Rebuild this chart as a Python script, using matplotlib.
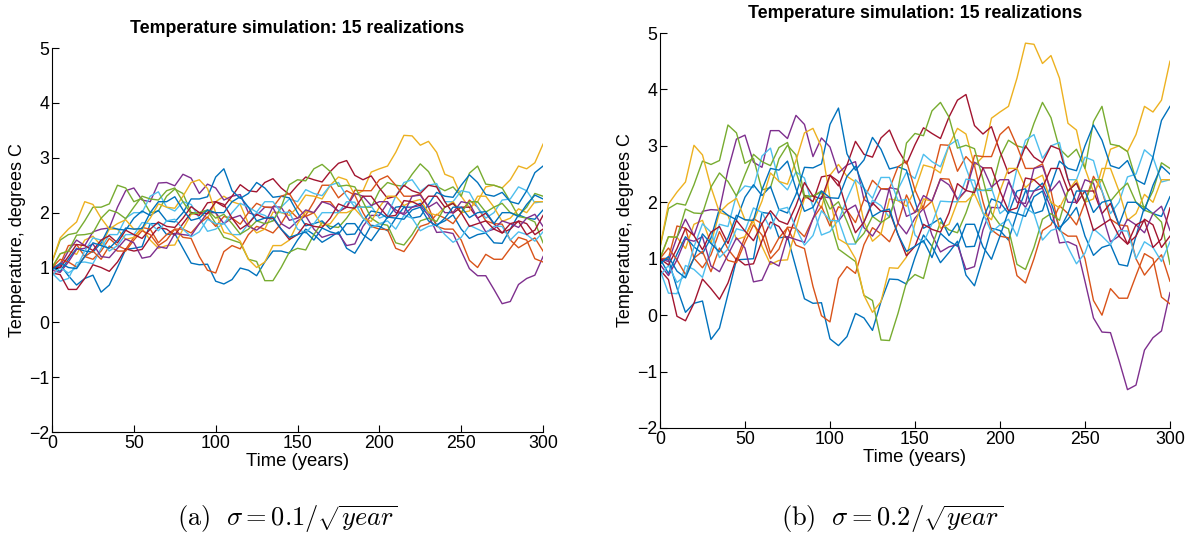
import numpy as np
import matplotlib
matplotlib.use("Agg")
import matplotlib.pyplot as plt

plt.rcParams['font.family'] = ['Liberation Sans', 'DejaVu Sans']
plt.rcParams['mathtext.fontset'] = 'cm'

# time grid (years), every 5 years
years = list(range(0, 305, 5))

# panel (a): sigma = 0.1/sqrt(year), 15 realizations
a_s1 = [1.0, 1.05, 0.85, 0.68, 0.8, 0.86, 0.55, 0.68, 1.0, 1.33, 1.35, 1.38, 1.8, 1.8, 1.6, 1.62, 1.35, 1.08, 1.05, 1.06,
        0.75, 0.70, 0.78, 0.99, 0.95, 0.85, 1.1, 1.3, 1.3, 1.26, 1.5, 1.7, 1.6, 1.46, 1.55, 1.65, 1.35, 1.26, 1.5, 1.77,
        1.75, 1.67, 1.9, 2.1, 2.1, 2.17, 2.0, 1.78, 1.85, 1.96, 1.7, 1.53, 1.6, 1.63, 1.45, 1.44, 1.7, 1.96, 1.9, 1.88, 2.05]
a_s2 = [1.0, 1.06, 1.4, 1.42, 1.2, 1.15, 1.3, 1.53, 1.4, 1.33, 1.55, 1.73, 1.7, 1.45, 1.6, 1.7, 1.55, 1.53, 1.2, 0.95,
        0.9, 1.29, 1.4, 1.34, 1.6, 1.75, 1.7, 1.63, 1.8, 2.05, 1.9, 1.95, 2.2, 2.5, 2.5, 2.27, 2.4, 2.32, 2.0, 1.75,
        1.7, 1.69, 1.35, 1.29, 1.5, 1.75, 1.8, 1.97, 1.9, 1.8, 2.0, 2.23, 2.1, 1.85, 1.8, 1.79, 1.5, 1.36, 1.45, 1.54, 1.3]
a_s3 = [1.0, 1.25, 1.3, 1.24, 1.5, 1.57, 1.4, 1.7, 1.7, 1.51, 1.55, 1.71, 1.5, 1.35, 1.4, 1.41, 1.7, 1.97, 2.0, 1.9,
        2.2, 2.3, 2.2, 2.15, 1.8, 1.63, 1.7, 2.01, 2.0, 1.95, 2.1, 2.32, 2.3, 2.25, 2.5, 2.65, 2.6, 2.32, 2.4, 2.74,
        2.8, 2.85, 3.1, 3.41, 3.4, 3.23, 3.3, 3.1, 2.7, 2.64, 2.3, 2.09, 2.2, 2.47, 2.5, 2.45, 2.6, 2.85, 2.8, 2.91, 3.25]
a_s4 = [1.0, 1.03, 1.3, 1.5, 1.4, 1.65, 1.7, 1.72, 2.1, 2.4, 2.45, 2.23, 2.2, 2.54, 2.55, 2.49, 2.7, 2.63, 2.35, 2.52,
        2.45, 2.23, 2.3, 2.33, 2.0, 1.95, 2.1, 2.09, 1.8, 1.71, 1.85, 1.94, 1.7, 1.55, 1.6, 1.62, 1.4, 1.43, 1.75, 1.95,
        1.95, 2.18, 2.05, 1.96, 2.1, 2.13, 1.95, 1.64, 1.65, 1.62, 1.3, 0.98, 0.85, 0.85, 0.6, 0.34, 0.38, 0.69, 0.8, 0.86, 1.2]
a_s5 = [1.1, 1.5, 1.6, 1.63, 1.85, 2.1, 2.1, 2.16, 2.5, 2.45, 2.2, 2.26, 2.0, 2.03, 2.3, 2.43, 2.35, 2.0, 2.0, 2.04,
        1.8, 1.55, 1.5, 1.45, 1.15, 1.11, 0.76, 0.76, 1.0, 1.28, 1.35, 1.32, 1.6, 1.82, 1.75, 1.73, 1.9, 2.12, 2.1, 2.1,
        2.4, 2.55, 2.5, 2.48, 2.7, 2.89, 2.75, 2.48, 2.4, 2.47, 2.3, 2.72, 2.85, 2.52, 2.5, 2.45, 2.2, 1.93, 1.9, 1.83, 1.45]
a_s6 = [0.9, 0.75, 0.8, 1.09, 1.1, 1.07, 1.35, 1.6, 1.6, 1.9, 2.0, 2.0, 2.3, 2.38, 2.1, 2.03, 2.2, 2.15, 1.9, 1.66,
        1.7, 1.81, 1.6, 1.6, 1.8, 2.0, 1.95, 1.85, 2.1, 2.25, 2.2, 2.42, 2.35, 2.31, 2.5, 2.55, 2.3, 2.1, 2.1, 2.12,
        1.9, 1.96, 2.3, 2.55, 2.6, 2.39, 2.5, 2.53, 2.2, 2.2, 2.4, 2.37, 2.1, 1.9, 2.0, 2.23, 2.25, 2.47, 2.4, 2.18, 2.2]
a_s7 = [0.9, 0.87, 0.6, 0.6, 0.8, 1.05, 1.0, 0.93, 1.1, 1.34, 1.3, 1.33, 1.55, 1.73, 1.7, 1.59, 1.8, 2.0, 1.95, 2.18,
        2.2, 2.11, 2.3, 2.51, 2.4, 2.38, 2.55, 2.62, 2.45, 2.33, 2.5, 2.65, 2.6, 2.56, 2.75, 2.9, 2.95, 2.68, 2.6, 2.67,
        2.45, 2.26, 2.3, 2.5, 2.4, 2.35, 2.5, 2.47, 2.2, 1.99, 2.1, 2.1, 1.9, 1.99, 1.8, 1.63, 1.7, 1.85, 1.8, 1.6, 1.7]
a_s8 = [1.0, 0.93, 1.15, 1.35, 1.3, 1.28, 1.45, 1.74, 1.7, 1.68, 1.9, 2.03, 1.95, 2.04, 1.85, 1.83, 2.0, 2.25, 2.25, 2.29,
        2.65, 2.8, 2.4, 2.26, 2.35, 2.55, 2.45, 2.28, 2.3, 2.27, 2.0, 1.76, 1.8, 1.85, 1.7, 1.81, 1.6, 1.61, 1.85, 2.03,
        2.0, 1.9, 2.1, 2.12, 1.9, 1.93, 2.15, 2.37, 2.3, 2.28, 2.5, 2.69, 2.55, 2.33, 2.3, 2.37, 2.2, 2.16, 2.4, 2.73, 2.85]
a_s9 = [1.0, 1.15, 1.1, 1.01, 1.2, 1.3, 1.15, 1.39, 1.3, 1.3, 1.5, 1.67, 1.6, 1.4, 1.5, 1.7, 1.7, 1.63, 1.8, 1.92,
        1.75, 1.93, 1.9, 1.79, 2.0, 2.17, 2.1, 2.1, 2.3, 2.35, 2.1, 1.93, 2.0, 2.2, 2.2, 2.01, 2.1, 2.41, 2.4, 2.4,
        2.6, 2.67, 2.5, 2.3, 2.3, 2.34, 2.1, 1.75, 1.7, 1.7, 1.5, 1.13, 1.0, 1.24, 1.15, 1.15, 1.35, 1.55, 1.5, 1.16, 1.1]
a_s10 = [1.1, 1.54, 1.7, 1.83, 2.2, 2.15, 1.9, 1.7, 1.8, 1.87, 1.7, 1.7, 1.9, 2.16, 2.1, 2.08, 2.3, 2.55, 2.6, 2.44,
         2.0, 1.64, 1.6, 1.48, 1.15, 1.0, 1.1, 1.4, 1.4, 1.5, 1.8, 2.02, 2.0, 1.76, 1.8, 2.0, 2.0, 2.07, 1.9, 1.84,
         2.1, 2.3, 2.3, 2.13, 2.2, 2.24, 2.0, 1.95, 2.1, 2.2, 2.0, 2.03, 2.3, 2.3, 2.1, 1.84, 1.9, 2.07, 2.0, 2.2, 2.2]
a_s11 = [0.95, 0.91, 1.1, 1.33, 1.35, 1.43, 1.2, 1.18, 1.35, 1.52, 1.45, 1.17, 1.2, 1.38, 1.35, 1.62, 1.6, 1.58, 1.8, 2.0,
         2.0, 1.8, 1.9, 1.95, 1.75, 1.68, 1.8, 2.11, 2.1, 1.86, 1.9, 2.05, 2.0, 2.2, 2.15, 2.03, 2.1, 2.35, 2.3, 2.13,
         2.2, 2.2, 2.0, 1.99, 2.3, 2.32, 2.1, 2.19, 2.0, 2.0, 2.2, 2.17, 1.9, 1.65, 1.7, 1.85, 1.8, 1.73, 1.9, 1.97, 1.75]
a_s12 = [1.0, 1.25, 1.3, 1.59, 1.6, 1.63, 1.9, 2.05, 2.0, 1.89, 2.1, 2.3, 2.25, 2.23, 2.4, 2.45, 2.2, 1.98, 2.0, 2.05,
         1.9, 1.97, 1.8, 1.61, 1.7, 1.85, 1.8, 1.85, 2.1, 2.51, 2.6, 2.58, 2.8, 2.88, 2.75, 2.48, 2.5, 2.47, 2.2, 1.9,
         1.8, 1.77, 1.45, 1.41, 1.6, 1.85, 1.9, 1.84, 2.1, 2.17, 2.0, 2.2, 2.2, 2.01, 2.1, 2.17, 2.0, 1.95, 2.1, 2.35, 2.3]
a_s13 = [0.85, 1.0, 0.9, 1.0, 1.3, 1.54, 1.5, 1.3, 1.4, 1.6, 1.6, 1.82, 1.8, 1.67, 1.85, 1.88, 1.7, 1.56, 1.65, 1.88,
         1.8, 1.8, 2.0, 2.17, 2.1, 2.01, 2.2, 2.2, 2.0, 2.01, 1.7, 1.63, 1.8, 2.0, 2.0, 2.0, 2.2, 2.19, 1.9, 1.73,
         1.8, 1.85, 1.7, 1.95, 1.9, 1.67, 1.75, 1.78, 1.6, 1.46, 1.55, 1.77, 1.7, 1.63, 1.75, 1.75, 1.5, 1.65, 1.6, 1.48, 1.65]
a_s14 = [1.0, 1.0, 1.2, 1.42, 1.4, 1.31, 1.5, 1.58, 1.45, 1.68, 1.6, 1.53, 1.7, 1.83, 1.75, 1.73, 1.9, 2.11, 2.0, 1.98,
         2.2, 2.15, 1.9, 1.7, 1.8, 1.97, 1.9, 1.9, 1.7, 1.51, 1.6, 1.8, 1.75, 1.73, 1.9, 2.16, 2.1, 2.08, 2.3, 2.3,
         2.1, 1.93, 1.95, 2.22, 2.2, 2.13, 2.3, 2.3, 2.1, 2.17, 2.0, 1.75, 1.8, 1.85, 1.7, 1.63, 1.8, 1.84, 1.6, 1.68, 1.95]
a_s15 = [0.95, 1.08, 1.0, 0.98, 1.2, 1.45, 1.4, 1.35, 1.5, 1.72, 1.7, 1.71, 2.0, 2.2, 2.2, 2.29, 2.05, 1.86, 1.9, 2.05,
         2.0, 2.0, 2.2, 2.29, 2.1, 1.85, 1.9, 1.92, 1.7, 1.55, 1.6, 1.65, 1.5, 1.72, 1.65, 1.61, 1.8, 1.8, 1.6, 1.49,
         1.7, 1.92, 1.9, 1.88, 2.05, 2.1, 1.85, 1.76, 1.9, 2.1, 2.1, 1.91, 2.0, 2.02, 1.8, 2.0, 2.0, 1.93, 2.15, 2.32, 2.25]

# panel (b): sigma = 0.2/sqrt(year), 15 realizations
b_s1 = [1.0, 0.98, 0.48, 0.05, 0.21, 0.25, -0.43, -0.23, 0.37, 0.98, 0.99, 1.0, 1.82, 1.8, 1.37, 1.39, 0.84, 0.29, 0.21, 0.22,
        -0.42, -0.54, -0.38, 0.03, -0.05, -0.27, 0.24, 0.64, 0.63, 0.55, 1.02, 1.42, 1.22, 0.93, 1.11, 1.31, 0.71, 0.52, 1.01, 1.54,
        1.5, 1.33, 1.8, 2.2, 2.2, 2.34, 2.0, 1.55, 1.7, 1.91, 1.4, 1.06, 1.2, 1.25, 0.9, 0.87, 1.4, 1.92, 1.8, 1.75, 2.1]
b_s2 = [1.0, 1.01, 1.58, 1.54, 1.01, 0.84, 1.07, 1.48, 1.17, 0.98, 1.39, 1.71, 1.62, 1.1, 1.37, 1.55, 1.24, 1.18, 0.51, -0.01,
        -0.12, 0.65, 0.86, 0.74, 1.25, 1.55, 1.44, 1.3, 1.63, 2.13, 1.82, 1.92, 2.42, 3.02, 3.01, 2.55, 2.81, 2.65, 2.01, 1.51,
        1.4, 1.37, 0.7, 0.57, 1.0, 1.5, 1.6, 1.94, 1.8, 1.6, 2.0, 2.46, 2.2, 1.7, 1.6, 1.58, 1.0, 0.71, 0.9, 1.07, 0.6]
b_s3 = [1.0, 1.39, 1.38, 1.18, 1.61, 1.68, 1.27, 1.82, 1.77, 1.34, 1.39, 1.67, 1.22, 0.9, 0.97, 0.98, 1.54, 2.07, 2.11, 1.9,
        2.48, 2.67, 2.46, 2.36, 1.65, 1.31, 1.44, 2.06, 2.03, 1.93, 2.22, 2.66, 2.62, 2.52, 3.01, 3.31, 3.21, 2.65, 2.81, 3.49,
        3.6, 3.7, 4.2, 4.82, 4.8, 4.46, 4.6, 4.2, 3.4, 3.28, 2.6, 2.18, 2.4, 2.94, 3.0, 2.9, 3.2, 3.7, 3.6, 3.81, 4.5]
b_s4 = [1.0, 0.95, 1.38, 1.7, 1.41, 1.84, 1.87, 1.86, 2.57, 3.12, 3.19, 2.71, 2.62, 3.27, 3.27, 3.13, 3.54, 3.38, 2.81, 3.14,
        2.98, 2.52, 2.66, 2.72, 2.05, 1.95, 2.24, 2.22, 1.63, 1.44, 1.72, 1.89, 1.42, 1.12, 1.21, 1.25, 0.81, 0.86, 1.51, 1.91,
        1.9, 2.36, 2.1, 1.91, 2.2, 2.25, 1.9, 1.28, 1.3, 1.23, 0.6, -0.05, -0.3, -0.31, -0.8, -1.32, -1.24, -0.62, -0.4, -0.28, 0.4]
b_s5 = [1.2, 1.89, 1.98, 1.95, 2.31, 2.73, 2.67, 2.74, 3.37, 3.23, 2.69, 2.78, 2.22, 2.26, 2.77, 3.01, 2.84, 2.12, 2.11, 2.18,
        1.68, 1.17, 1.06, 0.95, 0.35, 0.26, -0.44, -0.45, 0.03, 0.58, 0.72, 0.65, 1.22, 1.65, 1.51, 1.46, 1.81, 2.25, 2.21, 2.21,
        2.8, 3.1, 3.0, 2.96, 3.4, 3.77, 3.5, 2.95, 2.8, 2.94, 2.6, 3.43, 3.7, 3.03, 3.0, 2.9, 2.4, 1.86, 1.8, 1.65, 0.9]
b_s6 = [0.8, 0.39, 0.38, 0.88, 0.81, 0.67, 1.17, 1.61, 1.57, 2.13, 2.29, 2.26, 2.82, 2.96, 2.37, 2.22, 2.54, 2.43, 1.91, 1.42,
        1.48, 1.69, 1.26, 1.26, 1.65, 2.04, 1.94, 1.73, 2.23, 2.53, 2.42, 2.85, 2.72, 2.63, 3.01, 3.11, 2.61, 2.21, 2.21, 2.25,
        1.8, 1.92, 2.6, 3.1, 3.2, 2.78, 3.0, 3.06, 2.4, 2.4, 2.8, 2.74, 2.2, 1.8, 2.0, 2.45, 2.5, 2.93, 2.8, 2.36, 2.4]
b_s7 = [0.8, 0.63, -0.02, -0.1, 0.21, 0.64, 0.47, 0.28, 0.57, 1.01, 0.89, 0.91, 1.32, 1.65, 1.57, 1.34, 1.74, 2.12, 2.01, 2.45,
        2.48, 2.29, 2.66, 3.08, 2.85, 2.8, 3.14, 3.28, 2.93, 2.68, 3.02, 3.32, 3.22, 3.13, 3.51, 3.81, 3.91, 3.36, 3.21, 3.34,
        2.9, 2.51, 2.6, 3.0, 2.8, 2.7, 3.0, 2.94, 2.4, 1.98, 2.2, 2.2, 1.8, 1.98, 1.6, 1.26, 1.4, 1.7, 1.6, 1.2, 1.4]
b_s8 = [1.0, 0.74, 1.08, 1.39, 1.21, 1.09, 1.37, 1.89, 1.77, 1.69, 2.09, 2.31, 2.12, 2.28, 1.87, 1.81, 2.14, 2.62, 2.61, 2.68,
        3.38, 3.67, 2.86, 2.57, 2.75, 3.15, 2.94, 2.59, 2.63, 2.57, 2.02, 1.54, 1.62, 1.72, 1.41, 1.63, 1.21, 1.22, 1.71, 2.06,
        2.0, 1.8, 2.2, 2.24, 1.8, 1.85, 2.3, 2.73, 2.6, 2.56, 3.0, 3.37, 3.1, 2.65, 2.6, 2.74, 2.4, 2.32, 2.8, 3.45, 3.7]
b_s9 = [1.0, 1.19, 0.98, 0.72, 1.01, 1.13, 0.77, 1.19, 0.97, 0.93, 1.29, 1.6, 1.42, 1.0, 1.17, 1.56, 1.54, 1.39, 1.71, 1.93,
        1.58, 1.92, 1.86, 1.64, 2.05, 2.39, 2.24, 2.24, 2.63, 2.73, 2.22, 1.88, 2.02, 2.42, 2.41, 2.03, 2.21, 2.83, 2.81, 2.81,
        3.2, 3.34, 3.0, 2.6, 2.6, 2.68, 2.2, 1.5, 1.4, 1.4, 1.0, 0.26, 0.0, 0.47, 0.3, 0.3, 0.7, 1.09, 1.0, 0.32, 0.2]
b_s10 = [1.2, 1.97, 2.18, 2.36, 3.01, 2.84, 2.27, 1.82, 1.97, 2.07, 1.69, 1.66, 2.02, 2.52, 2.37, 2.32, 2.74, 3.23, 3.31, 2.98,
         2.08, 1.35, 1.26, 1.0, 0.35, 0.05, 0.24, 0.84, 0.83, 1.03, 1.62, 2.06, 2.02, 1.54, 1.61, 2.01, 2.01, 2.15, 1.81, 1.69,
         2.2, 2.6, 2.6, 2.26, 2.4, 2.48, 2.0, 1.9, 2.2, 2.4, 2.0, 2.06, 2.6, 2.6, 2.2, 1.68, 1.8, 2.14, 2.0, 2.4, 2.4]
b_s11 = [0.9, 0.7, 0.98, 1.35, 1.31, 1.39, 0.87, 0.77, 1.07, 1.37, 1.19, 0.59, 0.62, 0.95, 0.87, 1.39, 1.34, 1.29, 1.71, 2.1,
         2.08, 1.67, 1.86, 1.95, 1.55, 1.4, 1.64, 2.26, 2.23, 1.75, 1.82, 2.12, 2.02, 2.41, 2.31, 2.06, 2.21, 2.71, 2.61, 2.27,
         2.4, 2.4, 2.0, 1.98, 2.6, 2.64, 2.2, 2.38, 2.0, 2.0, 2.4, 2.34, 1.8, 1.3, 1.4, 1.7, 1.6, 1.46, 1.8, 1.93, 1.5]
b_s12 = [1.0, 1.39, 1.38, 1.88, 1.81, 1.8, 2.27, 2.52, 2.37, 2.11, 2.49, 2.85, 2.72, 2.65, 2.97, 3.06, 2.54, 2.09, 2.11, 2.2,
         1.88, 2.01, 1.66, 1.28, 1.45, 1.75, 1.64, 1.74, 2.23, 3.05, 3.22, 3.18, 3.62, 3.77, 3.51, 2.96, 3.01, 2.95, 2.41, 1.81,
         1.6, 1.53, 0.9, 0.81, 1.2, 1.7, 1.8, 1.68, 2.2, 2.34, 2.0, 2.4, 2.4, 2.02, 2.2, 2.34, 2.0, 1.9, 2.2, 2.7, 2.6]
b_s13 = [0.7, 0.88, 0.58, 0.7, 1.21, 1.62, 1.47, 1.02, 1.17, 1.53, 1.49, 1.9, 1.82, 1.53, 1.87, 1.91, 1.54, 1.24, 1.41, 1.85,
         1.68, 1.67, 2.06, 2.4, 2.25, 2.07, 2.44, 2.44, 2.03, 2.05, 1.42, 1.28, 1.62, 2.02, 2.01, 2.01, 2.41, 2.39, 1.81, 1.47,
         1.6, 1.7, 1.4, 1.9, 1.8, 1.33, 1.5, 1.55, 1.2, 0.91, 1.1, 1.53, 1.4, 1.25, 1.5, 1.49, 1.0, 1.3, 1.2, 0.95, 1.3]
b_s14 = [1.0, 0.89, 1.18, 1.54, 1.41, 1.16, 1.47, 1.57, 1.27, 1.68, 1.49, 1.32, 1.62, 1.85, 1.67, 1.61, 1.94, 2.35, 2.11, 2.06,
         2.48, 2.37, 1.86, 1.46, 1.65, 1.99, 1.84, 1.84, 1.43, 1.05, 1.22, 1.61, 1.52, 1.47, 1.81, 2.33, 2.21, 2.17, 2.61, 2.61,
         2.2, 1.85, 1.9, 2.43, 2.4, 2.26, 2.6, 2.6, 2.2, 2.34, 2.0, 1.5, 1.6, 1.7, 1.4, 1.26, 1.6, 1.68, 1.2, 1.35, 1.9]
b_s15 = [0.9, 1.04, 0.78, 0.66, 1.01, 1.44, 1.27, 1.12, 1.37, 1.77, 1.69, 1.68, 2.22, 2.6, 2.57, 2.73, 2.24, 1.84, 1.91, 2.2,
         2.08, 2.07, 2.46, 2.64, 2.25, 1.75, 1.84, 1.88, 1.43, 1.13, 1.22, 1.32, 1.02, 1.45, 1.31, 1.22, 1.61, 1.61, 1.21, 0.99,
         1.4, 1.84, 1.8, 1.75, 2.1, 2.2, 1.7, 1.51, 1.8, 2.2, 2.2, 1.82, 2.0, 2.04, 1.6, 2.0, 2.0, 1.85, 2.3, 2.64, 2.5]

series_a = [a_s1, a_s2, a_s3, a_s4, a_s5, a_s6, a_s7, a_s8, a_s9, a_s10, a_s11, a_s12, a_s13, a_s14, a_s15]
series_b = [b_s1, b_s2, b_s3, b_s4, b_s5, b_s6, b_s7, b_s8, b_s9, b_s10, b_s11, b_s12, b_s13, b_s14, b_s15]

# matlab default line colour order
colors = ['#0072BD', '#D95319', '#EDB120', '#7E2F8E', '#77AC30', '#4DBEEE', '#A2142F']

title = 'Temperature simulation: 15 realizations'
captions = [r'$\mathrm{(a)}\ \ \sigma = 0.1/\sqrt{year}$', r'$\mathrm{(b)}\ \ \sigma = 0.2/\sqrt{year}$']

fig = plt.figure(figsize=(11.93, 5.35), dpi=100)
ax1 = fig.add_axes([0.0436, 0.1925, 0.4116, 0.7175])
ax2 = fig.add_axes([0.5532, 0.2000, 0.4275, 0.7383])

def draw_panel(ax, series, cap, cap_x):
    for i, s in enumerate(series):
        ax.plot(years, s, color=colors[i % len(colors)], lw=1.0)
    ax.set_xlim(0, 300)
    ax.set_ylim(-2, 5)
    ax.set_xticks([0, 50, 100, 150, 200, 250, 300])
    ax.set_yticks([-2, -1, 0, 1, 2, 3, 4, 5])
    ax.set_yticklabels(['\u22122', '\u22121', '0', '1', '2', '3', '4', '5'])
    ax.spines['top'].set_visible(False)
    ax.spines['right'].set_visible(False)
    ax.tick_params(direction='in', length=5, labelsize=12.8, pad=2)
    ax.set_xlabel('Time (years)', fontsize=13.3, labelpad=1)
    ax.set_ylabel('Temperature, degrees C', fontsize=13, labelpad=2)
    ax.set_title(title, fontsize=12.8, fontweight='bold', pad=11)
    fig.text(cap_x, 0.016, cap, ha='center', va='baseline', fontsize=19)

draw_panel(ax1, series_a, captions[0], 0.241)
draw_panel(ax2, series_b, captions[1], 0.748)

fig.savefig('out.png', dpi=100)
